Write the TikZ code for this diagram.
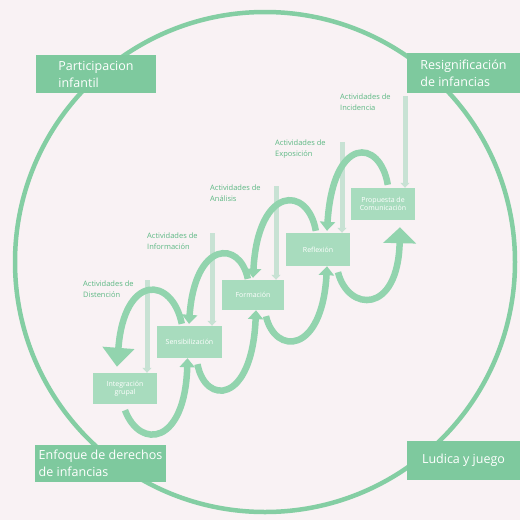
\documentclass[tikz,border=0pt]{standalone}
\usepackage{fontspec}
\setmainfont{Open Sans}
\usetikzlibrary{arrows.meta}
\usetikzlibrary{calc}

\definecolor{bgpink}{RGB}{249,242,244}
\definecolor{ringgreen}{RGB}{132,206,163}
\definecolor{cornergreen}{RGB}{126,201,158}
\definecolor{stagegreen}{RGB}{168,220,190}
\definecolor{wavegreen}{RGB}{146,212,174}
\definecolor{feedgreen}{RGB}{200,226,212}
\definecolor{labelgreen}{RGB}{92,184,131}

\begin{document}
\begin{tikzpicture}[
    x=1pt, y=-1pt, % pixel grid, y grows downwards
    corner/.style={
        fill=cornergreen, % darker band for the four axes
        text=white,
        align=left,
        inner sep=0pt,
        font=\fontsize{12.5}{17}\selectfont
    },
    stage/.style={
        fill=stagegreen, % light boxes along the spiral
        text=white,
        align=center,
        inner sep=0pt,
        font=\fontsize{7}{8.5}\selectfont
    },
    actlabel/.style={
        text=labelgreen,
        align=left,
        anchor=north west,
        inner sep=0pt,
        font=\fontsize{7.5}{11}\selectfont
    },
    wave/.style={draw=wavegreen, line width=6.5pt}, % the spiral strokes
    feed/.style={draw=feedgreen, line width=5pt, -{Triangle[length=5pt,width=9pt]}},
    smalltip/.style={-{Triangle[length=9pt,width=15pt]}}
]

\fill[bgpink] (0,0) rectangle (520,520);
\useasboundingbox (0,0) rectangle (520,520);

% big ring
\draw[ringgreen, line width=4.5pt] (265,262) circle [radius=250pt];

% four corners
\node[corner, minimum width=120, minimum height=38] (partic) at (96,74) {Participacion\\infantil};
\node[corner, minimum width=113, minimum height=40] (resig) at (463.5,73) {Resignificación\\de infancias};
\node[corner, minimum width=131, minimum height=37] (enfoq) at (100.5,463.5) {Enfoque de derechos\\de infancias};
\node[corner, minimum width=113, minimum height=39] (ludica) at (463.5,460.5) {Ludica y juego};

% stages
\node[stage, minimum width=64, minimum height=31] (integ) at (125,388.5) {Integración\\grupal};
\node[stage, minimum width=65, minimum height=32] (sensi) at (189.5,342) {Sensibilización};
\node[stage, minimum width=62, minimum height=30] (forma) at (253,295) {Formación};
\node[stage, minimum width=64, minimum height=33] (reflex) at (318,249.5) {Reflexión};
\node[stage, minimum width=64, minimum height=32] (propu) at (383,204) {Propuesta de\\Comunicación};

% activity labels
\node[actlabel] (distlab) at (83,281) {Actividades de\\Distención};
\node[actlabel] (infolab) at (147,233) {Actividades de\\Información};
\node[actlabel] (analab) at (210,185) {Actividades de\\Análisis};
\node[actlabel] (expolab) at (275,140) {Actividades de\\Exposición};
\node[actlabel] (incilab) at (340,94) {Actividades de\\Incidencia};

% feeding bars
\coordinate (d1) at (147,280);
\coordinate (d2) at (212,233);
\coordinate (d3) at (276,186);
\coordinate (d4) at (342,142);
\coordinate (d5) at (405,96);
\draw[feed] (d1) -- (d1 |- integ.north);
\draw[feed] (d2) -- (d2 |- sensi.north);
\draw[feed] (d3) -- (d3 |- forma.north);
\draw[feed] (d4) -- (d4 |- reflex.north);
\draw[feed] (d5) -- (d5 |- propu.north);

% lower loops, going up into the next stage
\draw[wave, smalltip] ($(integ.south)+(0,6)$) .. controls (140,450) and (185,445) .. ($(sensi.south)+(-2,0)$);
\draw[wave, smalltip] ($(sensi.south)+(8,6)$) .. controls (205,405) and (252,405) .. ($(forma.south)+(3,0)$);
\draw[wave, smalltip] ($(forma.south)+(13,6)$) .. controls (275,355) and (322,355) .. ($(reflex.south)+(9,0)$);
\draw[wave, -{Triangle[length=16pt,width=32pt]}] ($(reflex.south)+(20,6)$) .. controls (348,312) and (398,315) .. ($(propu.south)+(17,7)$);

% upper loops, coming back down
\draw[wave, -{Triangle[length=19pt,width=31pt]}] ($(sensi.north west)+(25,-2)$) .. controls (172,276) and (124,273) .. ($(integ.north)+(-8,-6)$);
\draw[wave, smalltip] ($(forma.north west)+(26,-1)$) .. controls (240,240) and (195,240) .. ($(sensi.north)+(-0.5,-2)$);
\draw[wave, smalltip] ($(reflex.north west)+(30,-2)$) .. controls (308,185) and (258,185) .. ($(forma.north)+(0,-2)$);
\draw[wave, smalltip] ($(propu.north west)+(37,-3)$) .. controls (380,138) and (333,135) .. ($(reflex.north)+(9,-2)$);

\end{tikzpicture}
\end{document}
